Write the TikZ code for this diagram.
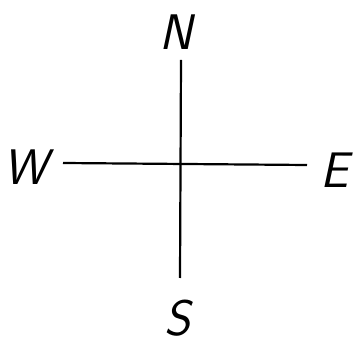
\documentclass[tikz,border=0pt]{standalone}
\usepackage{tikz}
\usetikzlibrary{positioning}
\tikzset{
  dirlabel/.style={inner sep=0pt, font=\sffamily\slshape\fontsize{50}{52}\selectfont},
  axis/.style={line width=2.2pt, black}
}
\begin{document}
\begin{tikzpicture}[x=1pt,y=-1pt]
    \useasboundingbox (0,0) rectangle (356,352);
    \node[dirlabel] (n) at (176,32) {N};
    \node[dirlabel] (s) at (178,318) {S};
    \node[dirlabel] (w) at (26,167) {W};
    \node[dirlabel] (e) at (335,170) {E};
    \coordinate (top) at (181,60);
    \coordinate (bottom) at (180,278);
    \coordinate (left) at (63,163);
    \coordinate (right) at (307,165);
    \draw[axis] (top) -- (bottom);
    \draw[axis] (left) -- (right);
  \end{tikzpicture}
\end{document}
